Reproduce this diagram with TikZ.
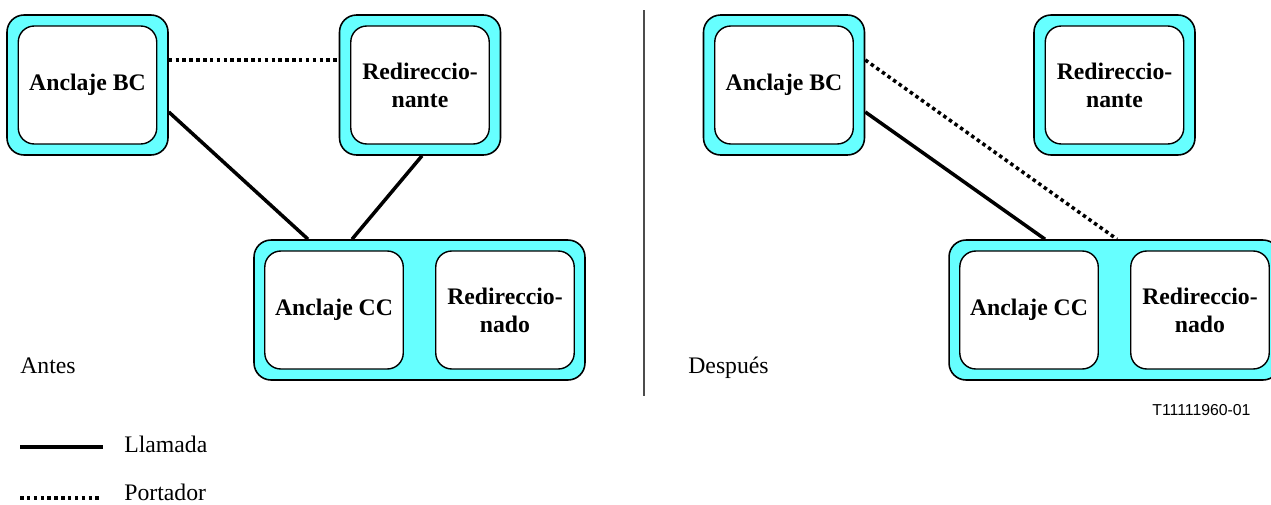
\documentclass[tikz,border=0pt]{standalone}
\usepackage{fontspec}
\setmainfont{Liberation Serif}
\setsansfont{Liberation Sans}
\usetikzlibrary{positioning}
\definecolor{shellcyan}{RGB}{102,255,255}

\begin{document}
\begin{tikzpicture}[x=0.02cm, y=-0.02cm,
    shell/.style={rectangle, draw, line width=0.9pt, fill=shellcyan, rounded corners=0.34cm, minimum width=3.22cm, minimum height=2.8cm},
    wide/.style={shell, minimum width=6.62cm},
    core/.style={rectangle, draw, line width=0.8pt, fill=white, rounded corners=0.32cm, minimum width=2.77cm, minimum height=2.36cm, align=center, font=\fontsize{13.5}{16}\selectfont\bfseries},
    call/.style={draw, line width=2pt},
    carrier/.style={draw, line width=2pt, dash pattern=on 2pt off 1.9pt},
    caption/.style={anchor=base west, inner sep=0pt, font=\fontsize{13.5}{16}\selectfont}]

    \useasboundingbox (0,0) rectangle (1271,504);

    % before
    \node [shell] (bcA) at (87.5,85) {};
    \node [core] (bcAin) at (bcA) {Anclaje BC};
    \node [shell] (redA) at (420,85) {};
    \node [core] (redAin) at (redA) {Redireccio-\\nante};
    \node [wide] (ccA) at (419.5,310) {};
    \node [core] (ccAin) at ([xshift=-1.71cm]ccA.center) {Anclaje CC};
    \node [core] (rdoA) at ([xshift=1.71cm]ccA.center) {Redireccio-\\nado};
    \node [caption] (antes) at (20,373) {Antes};

    \path [carrier] ([yshift=0.5cm]bcA.east) -- ([yshift=0.5cm]redA.west);
    \path [call] ([yshift=-0.54cm]bcA.east) -- ([xshift=-2.23cm]ccA.north);
    \path [call] ([xshift=0.04cm]redA.south) -- ([xshift=-1.35cm]ccA.north);

    % divider
    \draw [gray!60!black, line width=0.8pt] (644,10) -- (644,396);

    % after
    \node [shell] (bcB) at (784,85) {};
    \node [core] (bcBin) at (bcB) {Anclaje BC};
    \node [shell] (redB) at (1114.5,85) {};
    \node [core] (redBin) at (redB) {Redireccio-\\nante};
    \node [wide] (ccB) at (1114.5,310) {};
    \node [core] (ccBin) at ([xshift=-1.71cm]ccB.center) {Anclaje CC};
    \node [core] (rdoB) at ([xshift=1.71cm]ccB.center) {Redireccio-\\nado};
    \node [caption] (despues) at (688,373) {Después};

    \path [call] ([yshift=-0.54cm]bcB.east) -- ([xshift=-1.39cm]ccB.north);
    \path [carrier] ([yshift=0.5cm]bcB.east) -- ([xshift=0.05cm]ccB.north);

    \node [anchor=base west, inner sep=0pt, font=\sffamily\fontsize{9}{11}\selectfont] (figid) at (1152,415) {T11111960-01};

    % key
    \coordinate (callL) at (20,447);
    \coordinate (callR) at (103,447);
    \coordinate (carrL) at (20,498);
    \coordinate (carrR) at (101,498);
    \path [call] (callL) -- (callR);
    \path [carrier] (carrL) -- (carrR);
    \node [caption] (callkey) at (124,452) {Llamada};
    \node [caption] (carrkey) at (124,500) {Portador};
\end{tikzpicture}
\end{document}
